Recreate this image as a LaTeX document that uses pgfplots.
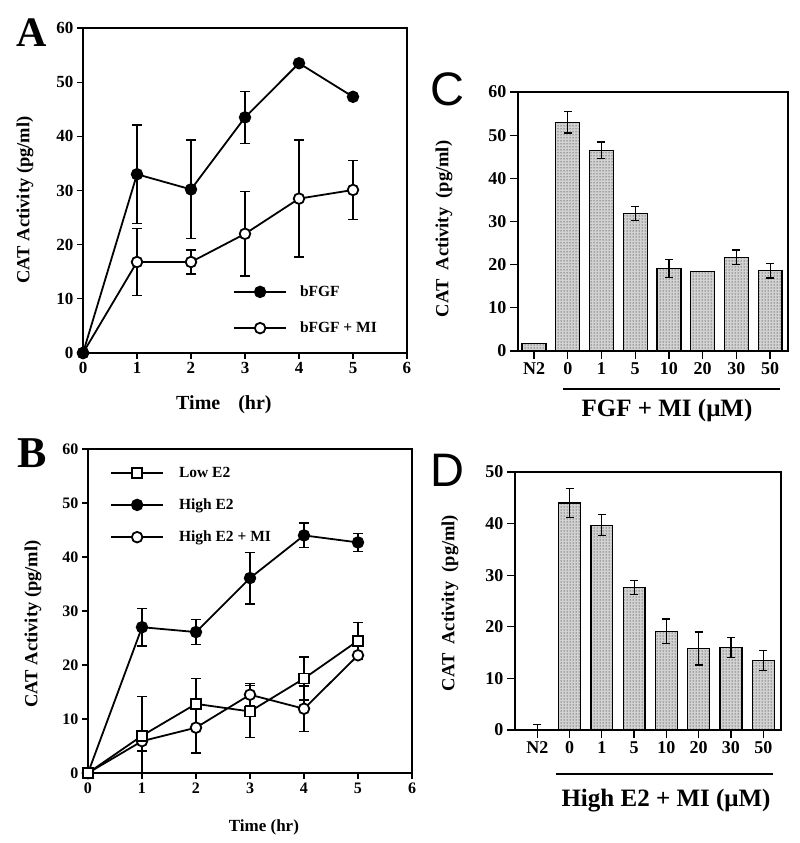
\documentclass[border=0pt]{standalone}
\usepackage{fontspec}
\setmainfont{Liberation Serif}
\newfontfamily\sansf{Liberation Sans}
\usepackage{pgfplots}
\pgfplotsset{compat=1.18}
\usetikzlibrary{patterns}

\pgfplotsset{
  panel/.style={
    scale only axis,
    clip=false,
    axis line style={line width=1.3pt},
    tick style={line width=1.3pt, black},
    tick align=outside,
    major tick length=6pt,
    xtick pos=left, ytick pos=left,
    /pgf/number format/assume math mode=true,
    label style={font=\fontsize{18.5}{20}\selectfont\bfseries},
  },
  ebar/.style={/pgfplots/error bars/y dir=both, /pgfplots/error bars/y explicit,
    /pgfplots/error bars/error bar style={line width=1.3pt, black, solid},
    /pgfplots/error bars/error mark options={line width=1.3pt, black, mark size=5pt, rotate=90}},
  ebarsmall/.style={/pgfplots/error bars/y dir=both, /pgfplots/error bars/y explicit,
    /pgfplots/error bars/error bar style={line width=1.2pt, black, solid},
    /pgfplots/error bars/error mark options={line width=1.2pt, black, mark size=4pt, rotate=90}},
  ln/.style={black, line width=1.8pt, mark size=5.3pt},
  lgimg/.style={legend image code/.code={%
    \draw[##1] (0pt,0pt) -- (52pt,0pt);
    \draw[##1] plot coordinates {(26pt,0pt)};}},
  barstyle/.style={ybar, draw=black, line width=1.3pt, fill=gray!35,
    postaction={pattern=dots, pattern color=black}},
}

\begin{document}
\begin{tikzpicture}
\path[use as bounding box] (0pt,0pt) rectangle (800pt,-843pt);

% ---------------- Panel A ----------------
\begin{axis}[panel, lgimg, at={(83pt,-353pt)}, anchor=south west,
  width=324pt, height=325pt,
  xmin=0, xmax=6, ymin=0, ymax=60,
  xtick={0,1,...,6}, ytick={0,10,...,60},
  xticklabel style={font=\fontsize{17}{19}\selectfont\bfseries},
  yticklabel style={font=\fontsize{17}{19}\selectfont\bfseries},
  ylabel={CAT Activity (pg/ml)},
  ylabel style={at={(axis description cs:-0.179,0.471)}, anchor=center},
  xlabel={Time\hspace{0.9em}(hr)},
  xlabel style={at={(axis description cs:0.435,-0.16)}, anchor=center,
    font=\fontsize{20}{22}\selectfont\bfseries},
  legend style={draw=none, fill=none, at={(axis description cs:0.463,0.2075)},
    anchor=north west, inner sep=0pt, row sep=24pt, column sep=13pt,
    font=\fontsize{15.5}{17}\selectfont\bfseries, nodes={inner sep=0pt}},
  legend cell align=left]
\addplot[ln, mark=*, mark options={fill=white}, forget plot, ebar] coordinates {
  (0,0) +- (0,0)
  (1,16.8) +- (0,6.2)
  (2,16.8) +- (0,2.2)
  (3,22.0) +- (0,7.8)
  (4,28.5) +- (0,10.8)
  (5,30.1) +- (0,5.5)
};
\addplot[ln, mark=*, mark options={fill=black}, forget plot, ebar] coordinates {
  (0,0) +- (0,0)
  (1,33.0) +- (0,9.1)
  (2,30.2) +- (0,9.1)
  (3,43.5) +- (0,4.8)
  (4,53.5) +- (0,0)
  (5,47.3) +- (0,0)
};
\addlegendimage{ln, mark=*, mark options={fill=black}}
\addlegendentry{bFGF}
\addlegendimage{ln, mark=*, mark options={fill=white}}
\addlegendentry{bFGF + MI}
\end{axis}

% ---------------- Panel B ----------------
\begin{axis}[panel, lgimg, at={(88pt,-773pt)}, anchor=south west,
  width=324pt, height=324pt,
  xmin=0, xmax=6, ymin=0, ymax=60,
  xtick={0,1,...,6}, ytick={0,10,...,60},
  xticklabel style={font=\fontsize{16}{18}\selectfont\bfseries},
  yticklabel style={font=\fontsize{16}{18}\selectfont\bfseries},
  ylabel={CAT Activity (pg/ml)},
  ylabel style={at={(axis description cs:-0.17,0.46)}, anchor=center},
  xlabel={Time (hr)},
  xlabel style={at={(axis description cs:0.543,-0.167)}, anchor=center,
    font=\fontsize{17}{19}\selectfont\bfseries},
  legend style={draw=none, fill=none, at={(axis description cs:0.068,0.945)},
    anchor=north west, inner sep=0pt, row sep=20pt, column sep=15pt,
    font=\fontsize{15.5}{17}\selectfont\bfseries, nodes={inner sep=0pt}},
  legend cell align=left]
\addplot[ln, mark=*, mark options={fill=black}, forget plot, ebar] coordinates {
  (0,0) +- (0,0)
  (1,27.0) +- (0,3.5)
  (2,26.1) +- (0,2.3)
  (3,36.1) +- (0,4.8)
  (4,44.0) +- (0,2.3)
  (5,42.7) +- (0,1.7)
};
\addplot[ln, mark=*, mark options={fill=white}, forget plot, ebar] coordinates {
  (0,0) +- (0,0)
  (1,5.9) +- (0,1.8)
  (2,8.4) +- (0,4.7)
  (3,14.5) +- (0,2.1)
  (4,11.9) +- (0,4.2)
  (5,21.8) +- (0,0.5)
};
\addplot[ln, mark=square*, mark size=5pt, mark options={fill=white}, forget plot, ebar] coordinates {
  (0,0) +- (0,0)
  (1,6.9) += (0,7.3) -= (0,6.9)
  (2,12.8) +- (0,4.7)
  (3,11.4) +- (0,4.8)
  (4,17.5) +- (0,4.0)
  (5,24.5) +- (0,3.4)
};
\addlegendimage{ln, mark=square*, mark size=5pt, mark options={fill=white}}
\addlegendentry{Low E2}
\addlegendimage{ln, mark=*, mark options={fill=black}}
\addlegendentry{High E2}
\addlegendimage{ln, mark=*, mark options={fill=white}}
\addlegendentry{High E2 + MI}
\end{axis}

% ---------------- Panel C ----------------
\begin{axis}[panel, at={(518pt,-351pt)}, anchor=south west,
  width=270pt, height=259pt,
  xmin=-0.475, xmax=7.53, ymin=0, ymax=60,
  major tick length=8pt,
  xtick={0,1,...,7}, xticklabels={N2,0,1,5,10,20,30,50},
  ytick={0,10,...,60},
  xticklabel style={font=\fontsize{18}{20}\selectfont\bfseries},
  yticklabel style={font=\fontsize{18}{20}\selectfont\bfseries},
  ylabel={CAT\hspace{0.5em}Activity\hspace{0.5em}(pg/ml)},
  ylabel style={at={(axis description cs:-0.274,0.471)}, anchor=center}]
\addplot[barstyle, bar width=0.71, ebarsmall] coordinates {
  (0,1.7) +- (0,0)
  (1,53.0) +- (0,2.5)
  (2,46.5) +- (0,1.9)
  (3,31.8) +- (0,1.6)
  (4,19.1) +- (0,2.1)
  (5,18.4) +- (0,0)
  (6,21.7) +- (0,1.7)
  (7,18.6) +- (0,1.7)
};
\end{axis}

% ---------------- Panel D ----------------
\begin{axis}[panel, at={(515pt,-730pt)}, anchor=south west,
  width=266pt, height=258pt,
  xmin=-0.69, xmax=7.55, ymin=0, ymax=50,
  major tick length=8pt,
  xtick={0,1,...,7}, xticklabels={N2,0,1,5,10,20,30,50},
  ytick={0,10,...,50},
  xticklabel style={font=\fontsize{18}{20}\selectfont\bfseries},
  yticklabel style={font=\fontsize{18}{20}\selectfont\bfseries},
  ylabel={CAT\hspace{0.5em}Activity\hspace{0.5em}(pg/ml)},
  ylabel style={at={(axis description cs:-0.244,0.492)}, anchor=center}]
\addplot[barstyle, bar width=0.68, ebarsmall] coordinates {
  (0,0) += (0,1.1) -= (0,0)
  (1,44.0) +- (0,2.8)
  (2,39.7) +- (0,2.0)
  (3,27.6) +- (0,1.3)
  (4,19.1) +- (0,2.4)
  (5,15.8) +- (0,3.2)
  (6,16.0) +- (0,1.9)
  (7,13.5) +- (0,1.9)
};
\end{axis}

% underlines and group labels
\draw[line width=1.3pt] (563pt,-389pt) -- (780pt,-389pt);
\node[font=\fontsize{25}{27}\selectfont\bfseries] at (667pt,-410pt) {FGF + MI (μM)};
\draw[line width=1.3pt] (556pt,-774pt) -- (773pt,-774pt);
\node[font=\fontsize{25}{27}\selectfont\bfseries] at (666pt,-801pt) {High E2 + MI (μM)};

% panel letters
\node[inner sep=0pt, font=\fontsize{42}{44}\selectfont\bfseries] at (31.5pt,-33pt) {A};
\node[inner sep=0pt, font=\fontsize{44}{46}\selectfont\bfseries] at (32.5pt,-453pt) {B};
\node[inner sep=0pt, font=\sansf\fontsize{47}{49}\selectfont] at (447pt,-89pt) {C};
\node[inner sep=0pt, font=\sansf\fontsize{47}{49}\selectfont] at (447pt,-470pt) {D};
\end{tikzpicture}
\end{document}
